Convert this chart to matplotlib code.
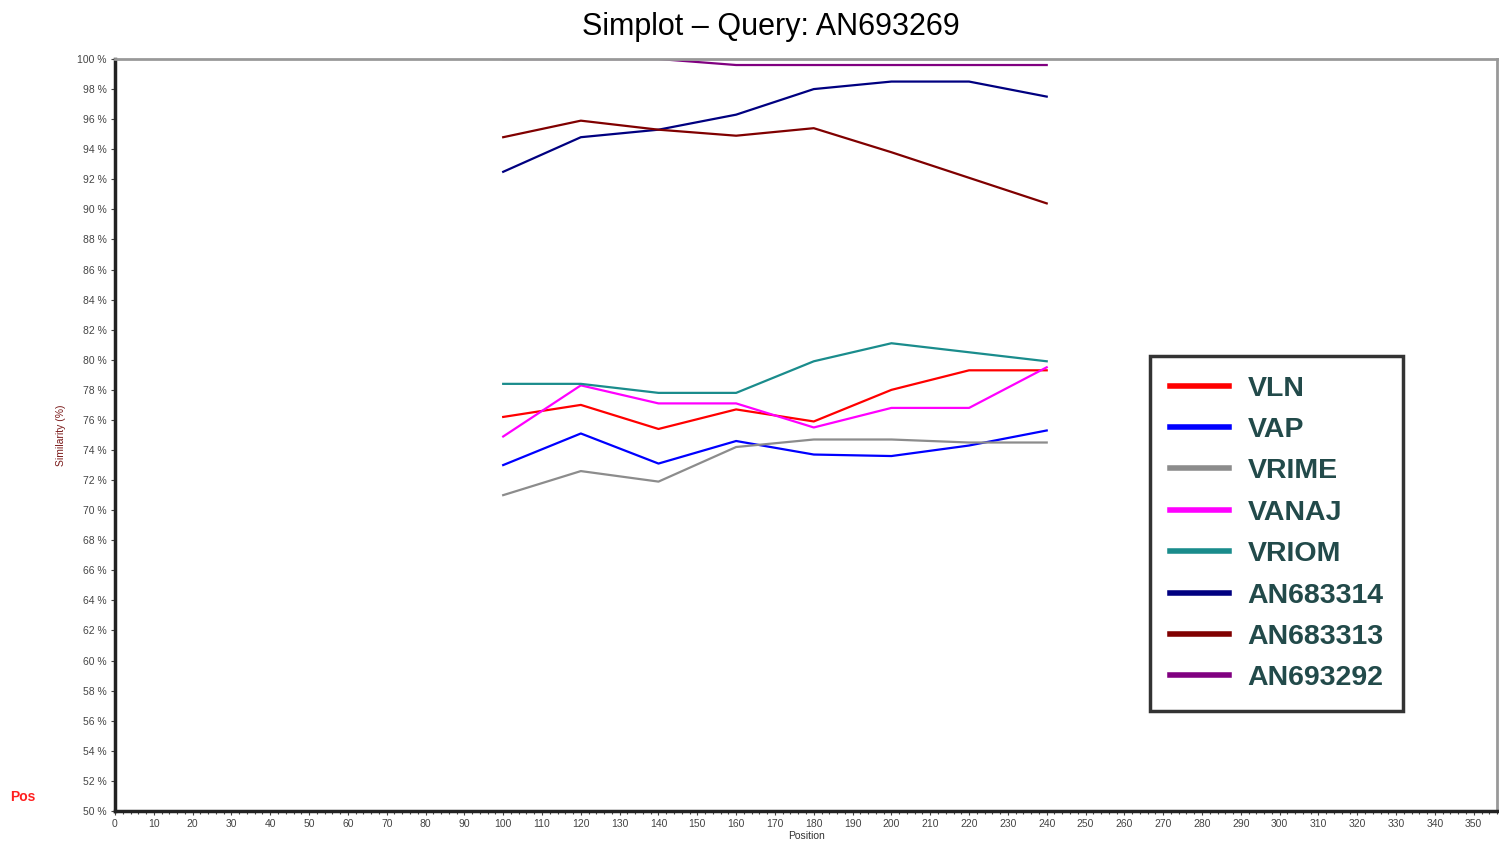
import matplotlib
matplotlib.use("Agg")
import matplotlib.pyplot as plt
from matplotlib.ticker import MultipleLocator, FuncFormatter

plt.rcParams["font.family"] = ["Liberation Sans", "DejaVu Sans"]

# data read from the simplot (position vs similarity %)
positions = [100, 120, 140, 160, 180, 200, 220, 240]
vln = [76.2, 77.0, 75.4, 76.7, 75.9, 78.0, 79.3, 79.3]
vap = [73.0, 75.1, 73.1, 74.6, 73.7, 73.6, 74.3, 75.3]
vrime = [71.0, 72.6, 71.9, 74.2, 74.7, 74.7, 74.5, 74.5]
vanaj = [74.9, 78.3, 77.1, 77.1, 75.5, 76.8, 76.8, 79.5]
vriom = [78.4, 78.4, 77.8, 77.8, 79.9, 81.1, 80.5, 79.9]
an683314 = [92.5, 94.8, 95.3, 96.3, 98.0, 98.5, 98.5, 97.5]
an683313 = [94.8, 95.9, 95.3, 94.9, 95.4, 93.8, 92.1, 90.4]
an693292 = [100.0, 100.0, 100.0, 99.6, 99.6, 99.6, 99.6, 99.6]

series = [
    ("VLN", vln, "#ff0000"),
    ("VAP", vap, "#0000ff"),
    ("VRIME", vrime, "#8c8c8c"),
    ("VANAJ", vanaj, "#ff00ff"),
    ("VRIOM", vriom, "#1a8c8c"),
    ("AN683314", an683314, "#000080"),
    ("AN683313", an683313, "#800000"),
    ("AN693292", an693292, "#800080"),
]

fig = plt.figure(figsize=(14.99, 8.49), dpi=100)
ax = fig.add_axes([0.0767, 0.0448, 0.922, 0.8857])

for name, vals, col in series:
    ax.plot(positions, vals, color=col, lw=1.6, label=name, zorder=2)

ax.set_xlim(0, 356)
ax.set_ylim(50, 100)
ax.xaxis.set_major_locator(MultipleLocator(10))
ax.xaxis.set_minor_locator(MultipleLocator(2))
ax.yaxis.set_major_locator(MultipleLocator(2))
ax.yaxis.set_major_formatter(FuncFormatter(lambda v, _: f"{v:.0f} %"))
ax.tick_params(axis="both", which="major", labelsize=7.5, colors="#444444",
               length=3, width=0.8, pad=3)
ax.tick_params(axis="x", which="minor", length=2, width=0.8, color="#444444")

for s in ("left", "bottom"):
    ax.spines[s].set_linewidth(2.5)
    ax.spines[s].set_color("#222222")
for s in ("top", "right"):
    ax.spines[s].set_linewidth(2)
    ax.spines[s].set_color("#999999")

ax.set_xlabel("Position", fontsize=7.5, color="#333333", labelpad=1)
ax.set_ylabel("Similarity (%)", fontsize=7.5, color="#7a1a1a", labelpad=8)
fig.text(0.514, 0.968, "Simplot \u2013 Query: AN693269", fontsize=22,
         ha="center", va="center")
fig.text(0.0067, 0.057, "Pos", color="#ff2020", fontsize=10, weight="bold")

leg = ax.legend(loc="upper left", bbox_to_anchor=(0.767, 0.581),
                bbox_transform=fig.transFigure, fancybox=False,
                prop={"size": 20.5, "weight": "bold"}, labelspacing=0.54,
                handlelength=2.1, handletextpad=0.63, borderpad=0.7,
                borderaxespad=0)
leg.get_frame().set_edgecolor("black")
leg.get_frame().set_linewidth(2.5)
for t in leg.get_texts():
    t.set_color("#224a4a")
for h in leg.get_lines():
    h.set_linewidth(4)

fig.savefig("out.png", dpi=100)
